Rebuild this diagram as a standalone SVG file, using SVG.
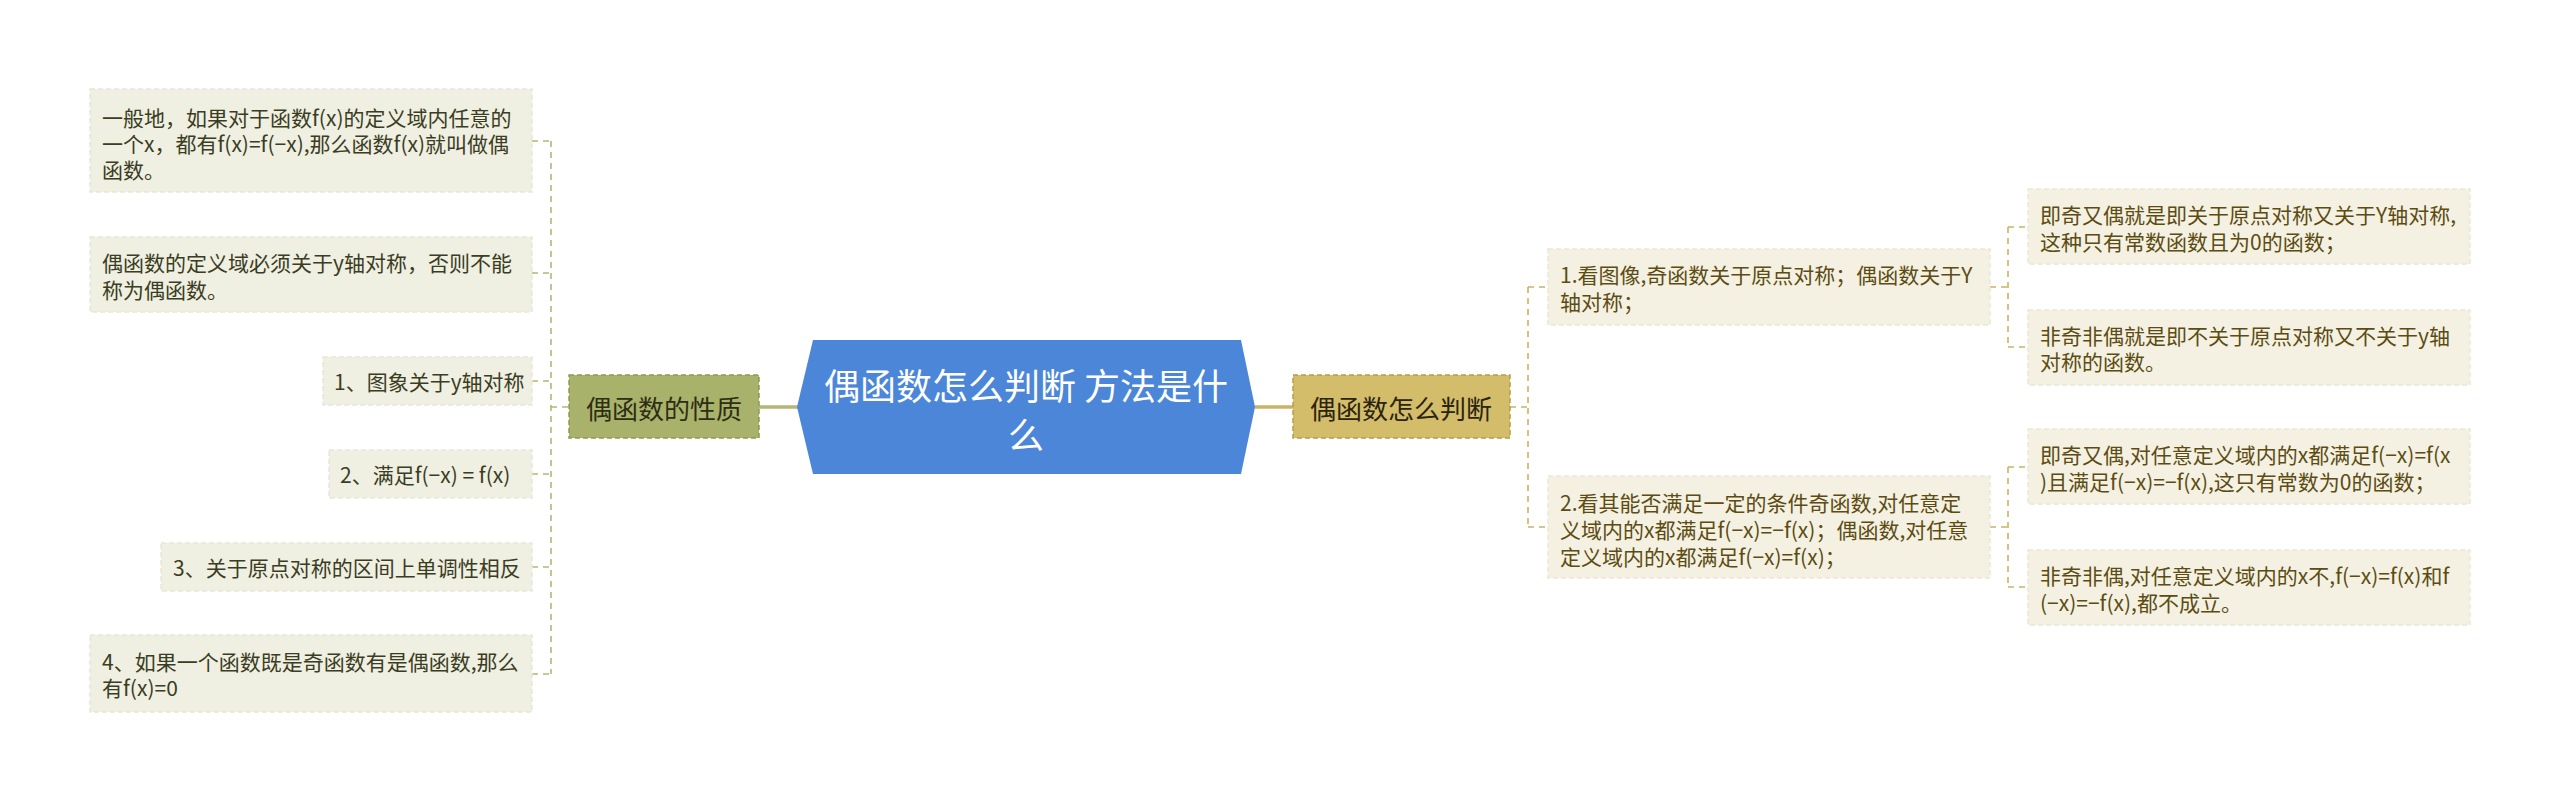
<svg xmlns="http://www.w3.org/2000/svg" width="2560" height="801" viewBox="0 0 2560 801">
<style>
text{font-family:"Noto Sans CJK SC","Noto Sans",sans-serif;dominant-baseline:central}
.lf rect{fill:#efefe2;stroke:#e8e8d8;stroke-width:1.5;stroke-dasharray:5 3}
.lf text{font-size:21px;fill:#3a3d1f}
.rf rect{fill:#f4f1e2;stroke:#ede8d4;stroke-width:1.5;stroke-dasharray:5 3}
.rf text{font-size:21px;fill:#5c4c12}
.cl{stroke:#b3b676;stroke-width:1.6;stroke-dasharray:6 5;fill:none}
.cr{stroke:#c9b465;stroke-width:1.6;stroke-dasharray:6 5;fill:none}
</style>
<rect width="2560" height="801" fill="#ffffff"/>
<g id="connectors">
<path class="cl" d="M551 141V674M532 141H551M532 273H551M532 381H551M532 474H551M532 567H551M532 674H551M551 407H569"/>
<path d="M759 407H798" stroke="#b3b676" stroke-width="3.5" fill="none"/>
<path d="M1255 407H1293" stroke="#c9b465" stroke-width="3.5" fill="none"/>
<path class="cr" d="M1510 407H1528M1528 287V527M1528 287H1548M1528 527H1548"/>
<path class="cr" d="M1990 287H2008M2008 227V347M2008 227H2028M2008 347H2028"/>
<path class="cr" d="M1990 527H2008M2008 467V587M2008 467H2028M2008 587H2028"/>
</g>
<g id="root">
<polygon points="813,340 1241,340 1255,407 1241,474 813,474 797,407" fill="#4b86d9"/>
<text x="1026" y="384" text-anchor="middle" font-size="36" fill="#ffffff">偶函数怎么判断 方法是什</text>
<text x="1026" y="433" text-anchor="middle" font-size="36" fill="#ffffff">么</text>
</g>
<g id="left-branch">
<rect x="569" y="375" width="190" height="63" fill="#a9b26a" stroke="#8f9a4f" stroke-width="1.5" stroke-dasharray="5 3"/>
<text x="664" y="407" text-anchor="middle" font-size="26" fill="#2e2e15">偶函数的性质</text>
</g>
<g id="right-branch">
<rect x="1293" y="375" width="217" height="63" fill="#d3bc6a" stroke="#b79e47" stroke-width="1.5" stroke-dasharray="5 3"/>
<text x="1401" y="407" text-anchor="middle" font-size="26" fill="#2b2410">偶函数怎么判断</text>
</g>
<g id="l1" class="lf">
<rect x="90" y="89" width="442" height="103"/>
<text x="102" y="117">一般地，如果对于函数f(x)的定义域内任意的</text>
<text x="102" y="143">一个x，都有f(x)=f(−x),那么函数f(x)就叫做偶</text>
<text x="102" y="169">函数。</text>
</g>
<g id="l2" class="lf">
<rect x="90" y="237" width="442" height="75"/>
<text x="102" y="262">偶函数的定义域必须关于y轴对称，否则不能</text>
<text x="102" y="289">称为偶函数。</text>
</g>
<g id="l3" class="lf">
<rect x="323" y="357" width="209" height="48"/>
<text x="334" y="381">1、图象关于y轴对称</text>
</g>
<g id="l4" class="lf">
<rect x="329" y="450" width="203" height="48"/>
<text x="340" y="474">2、满足f(−x) = f(x)</text>
</g>
<g id="l5" class="lf">
<rect x="161" y="543" width="371" height="48"/>
<text x="173" y="567">3、关于原点对称的区间上单调性相反</text>
</g>
<g id="l6" class="lf">
<rect x="90" y="635" width="442" height="77"/>
<text x="102" y="661">4、如果一个函数既是奇函数有是偶函数,那么</text>
<text x="102" y="687">有f(x)=0</text>
</g>
<g id="r1" class="rf">
<rect x="1548" y="249" width="442" height="76"/>
<text x="1560" y="274">1.看图像,奇函数关于原点对称；偶函数关于Y</text>
<text x="1560" y="301">轴对称；</text>
</g>
<g id="r2" class="rf">
<rect x="1548" y="476" width="442" height="102"/>
<text x="1560" y="502">2.看其能否满足一定的条件奇函数,对任意定</text>
<text x="1560" y="529">义域内的x都满足f(−x)=−f(x)；偶函数,对任意</text>
<text x="1560" y="556">定义域内的x都满足f(−x)=f(x)；</text>
</g>
<g id="r11" class="rf">
<rect x="2028" y="189" width="442" height="75"/>
<text x="2040" y="214">即奇又偶就是即关于原点对称又关于Y轴对称,</text>
<text x="2040" y="241">这种只有常数函数且为0的函数；</text>
</g>
<g id="r12" class="rf">
<rect x="2028" y="310" width="442" height="75"/>
<text x="2040" y="335">非奇非偶就是即不关于原点对称又不关于y轴</text>
<text x="2040" y="361">对称的函数。</text>
</g>
<g id="r21" class="rf">
<rect x="2028" y="429" width="442" height="75"/>
<text x="2040" y="454">即奇又偶,对任意定义域内的x都满足f(−x)=f(x</text>
<text x="2040" y="481">)且满足f(−x)=−f(x),这只有常数为0的函数；</text>
</g>
<g id="r22" class="rf">
<rect x="2028" y="550" width="442" height="75"/>
<text x="2040" y="575">非奇非偶,对任意定义域内的x不,f(−x)=f(x)和f</text>
<text x="2040" y="602">(−x)=−f(x),都不成立。</text>
</g>
</svg>
